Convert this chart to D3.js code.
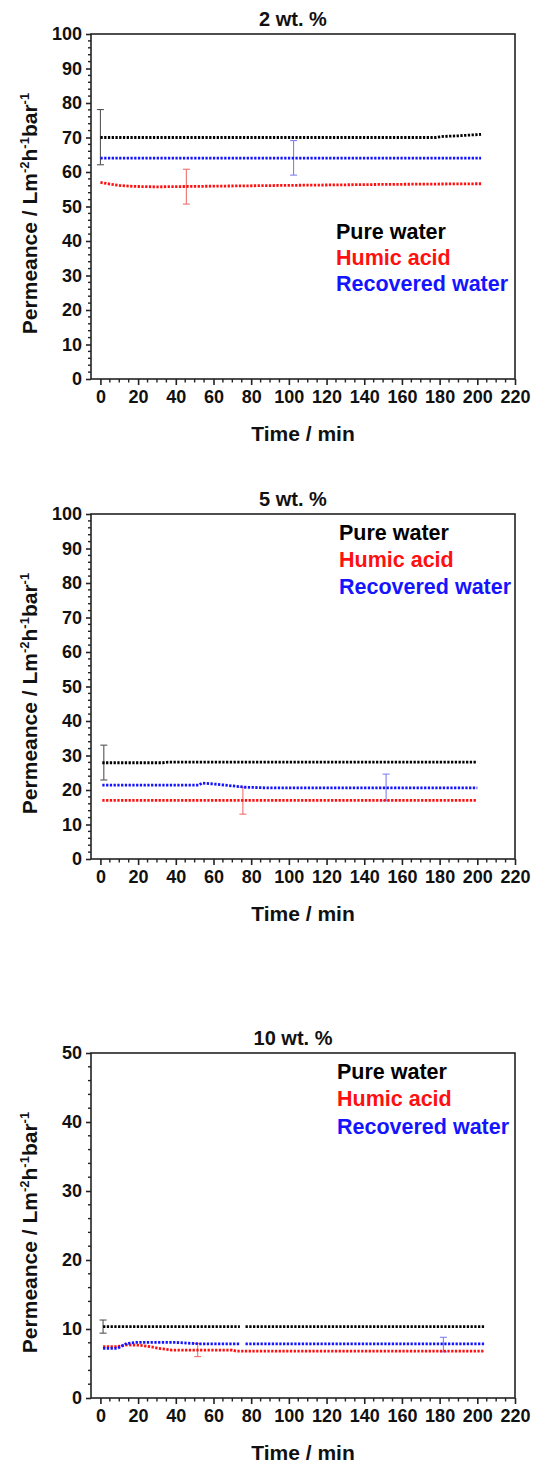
<!doctype html>
<html>
<head>
<meta charset="utf-8">
<script src="https://d3js.org/d3.v7.min.js"></script>
<style>
  body { margin: 0; background: #fff; }
  text { font-family: "Liberation Sans", Arial, sans-serif; font-weight: bold; }
</style>
</head>
<body>
<script type="text/javascript">
var width = 534;
var height = 1464;

// tick labels
var xTicks = [0, 20, 40, 60, 80, 100, 120, 140, 160, 180, 200, 220];
var yTicks100 = [0, 10, 20, 30, 40, 50, 60, 70, 80, 90, 100];
var yTicks50 = [0, 10, 20, 30, 40, 50];
var legendNames = ["Pure water", "Humic acid", "Recovered water"];

// 2 wt. %  : [time, permeance]
var pure2 = [[0, 70.0], [60, 70.0], [120, 70.0], [178, 70.0], [182, 70.3], [190, 70.5], [202, 70.9]];
var humic2 = [[0, 57.0], [5, 56.5], [10, 56.1], [15, 55.9], [20, 55.8], [30, 55.7], [45, 55.8], [95, 56.1], [150, 56.4], [202, 56.6]];
var recovered2 = [[0, 64.0], [100, 64.0], [202, 64.0]];
var err2T = [0, 45.6, 102.5];
var err2Lo = [62.1, 50.7, 59.1];
var err2Hi = [78.1, 60.8, 69.1];

// 5 wt. %
var pure5 = [[1, 27.9], [33, 27.9], [36, 28.1], [120, 28.1], [200, 28.1]];
var humic5 = [[1, 17.0], [100, 17.0], [200, 17.0]];
var recovered5 = [[1, 21.4], [52, 21.4], [54, 22.0], [61, 21.7], [70, 21.2], [77, 20.8], [90, 20.6], [200, 20.6]];
var err5T = [1.8, 75.6, 151.6];
var err5Lo = [22.9, 13.0, 16.9];
var err5Hi = [33.0, 20.8, 24.6];

// 10 wt. %  (NaN = gap in the record)
var pure10 = [[1.4, 10.35], [74, 10.35], [NaN, NaN], [77, 10.35], [204, 10.35]];
var humic10 = [[1.4, 7.45], [9, 7.45], [14, 7.7], [20, 7.65], [25, 7.5], [32, 7.15], [38, 6.95], [70, 6.95], [72, 6.8], [204, 6.8]];
var recovered10 = [[1.4, 7.2], [9, 7.2], [14, 7.9], [19, 8.05], [40, 8.05], [53, 7.85], [74, 7.85], [NaN, NaN], [77, 7.85], [204, 7.85]];
var err10T = [1.4, 51.6, 182];
var err10Lo = [9.4, 6.0, 6.7];
var err10Hi = [11.3, 7.9, 8.8];

var lineColors = ["#000000", "#ff1010", "#1414ff"];
var errColors = ["#555555", "#f07070", "#8080f0"];

var panels = [
  { title: "2 wt. %", top: 34, bottom: 379, yMax: 100, yTicks: yTicks100,
    series: [pure2, humic2, recovered2], errT: err2T, errLo: err2Lo, errHi: err2Hi,
    legendY: [231, 257, 283], legendX: 336 },
  { title: "5 wt. %", top: 514, bottom: 859, yMax: 100, yTicks: yTicks100,
    series: [pure5, humic5, recovered5], errT: err5T, errLo: err5Lo, errHi: err5Hi,
    legendY: [532, 559, 586], legendX: 339 },
  { title: "10 wt. %", top: 1053, bottom: 1398, yMax: 50, yTicks: yTicks50,
    series: [pure10, humic10, recovered10], errT: err10T, errLo: err10Lo, errHi: err10Hi,
    legendY: [1071, 1098, 1126], legendX: 337 }
];

var svg = d3.select("body").append("svg")
    .attr("width", width)
    .attr("height", height);

svg.append("rect").attr("width", width).attr("height", height).attr("fill", "#fff");

var x = d3.scaleLinear().domain([-5, 220]).range([91, 515]);

panels.forEach(function (p) {
  var y = d3.scaleLinear().domain([0, p.yMax]).range([p.bottom, p.top]);
  var g = svg.append("g");

  // frame
  g.append("rect")
      .attr("x", x(-5)).attr("y", p.top)
      .attr("width", x(220) - x(-5)).attr("height", p.bottom - p.top)
      .attr("fill", "none").attr("stroke", "#222").attr("stroke-width", 1.6);

  // x axis
  var xAxis = d3.axisBottom(x).tickValues(xTicks).tickSize(6).tickPadding(5);
  var gx = g.append("g").attr("transform", "translate(0," + p.bottom + ")").call(xAxis);
  gx.select(".domain").remove();
  gx.selectAll("line").attr("stroke", "#222").attr("stroke-width", 1.6);
  gx.selectAll("text").attr("font-size", 18).attr("fill", "#111")
      .attr("font-family", "Liberation Sans, Arial, sans-serif").attr("font-weight", "bold");
  var xMinor = d3.range(5, 220, 5).filter(function (v) { return v % 20 !== 0; });
  g.append("g").selectAll("line").data(xMinor).enter().append("line")
      .attr("x1", function (d) { return x(d); }).attr("x2", function (d) { return x(d); })
      .attr("y1", p.bottom).attr("y2", p.bottom + 3.5)
      .attr("stroke", "#222").attr("stroke-width", 1.4);

  // y axis
  var yAxis = d3.axisLeft(y).tickValues(p.yTicks).tickSize(5).tickPadding(4);
  var gy = g.append("g").attr("transform", "translate(" + x(-5) + ",0)").call(yAxis);
  gy.select(".domain").remove();
  gy.selectAll("line").attr("stroke", "#222").attr("stroke-width", 1.6);
  gy.selectAll("text").attr("font-size", 18).attr("fill", "#111")
      .attr("font-family", "Liberation Sans, Arial, sans-serif").attr("font-weight", "bold");
  var yMinor = d3.range(2, p.yMax, 2).filter(function (v) { return v % 10 !== 0; });
  g.append("g").selectAll("line").data(yMinor).enter().append("line")
      .attr("x1", x(-5)).attr("x2", x(-5) - 3)
      .attr("y1", function (d) { return y(d); }).attr("y2", function (d) { return y(d); })
      .attr("stroke", "#222").attr("stroke-width", 1.4);

  // title
  g.append("text").attr("x", 293).attr("y", p.top - 8)
      .attr("text-anchor", "middle").attr("font-size", 20).attr("fill", "#111")
      .text(p.title);

  // axis titles
  g.append("text").attr("x", 303).attr("y", p.bottom + 62)
      .attr("text-anchor", "middle").attr("font-size", 21).attr("fill", "#111")
      .text("Time / min");

  var yl = g.append("text")
      .attr("transform", "translate(37," + ((p.top + p.bottom) / 2 + 7) + ") rotate(-90)")
      .attr("text-anchor", "middle").attr("font-size", 21).attr("fill", "#111");
  yl.append("tspan").text("Permeance / Lm");
  yl.append("tspan").attr("dy", -8).attr("font-size", 13).text("-2");
  yl.append("tspan").attr("dy", 8).text("h");
  yl.append("tspan").attr("dy", -8).attr("font-size", 13).text("-1");
  yl.append("tspan").attr("dy", 8).text("bar");
  yl.append("tspan").attr("dy", -8).attr("font-size", 13).text("-1");

  // error bars
  var errIdx = [0, 1, 2];
  var eb = g.append("g").selectAll("g").data(errIdx).enter().append("g")
      .attr("stroke", function (i) { return errColors[i]; }).attr("stroke-width", 1.1);
  eb.append("line")
      .attr("x1", function (i) { return x(p.errT[i]); }).attr("x2", function (i) { return x(p.errT[i]); })
      .attr("y1", function (i) { return y(p.errLo[i]); }).attr("y2", function (i) { return y(p.errHi[i]); });
  eb.append("line")
      .attr("x1", function (i) { return x(p.errT[i]) - 3.5; }).attr("x2", function (i) { return x(p.errT[i]) + 3.5; })
      .attr("y1", function (i) { return y(p.errLo[i]); }).attr("y2", function (i) { return y(p.errLo[i]); });
  eb.append("line")
      .attr("x1", function (i) { return x(p.errT[i]) - 3.5; }).attr("x2", function (i) { return x(p.errT[i]) + 3.5; })
      .attr("y1", function (i) { return y(p.errHi[i]); }).attr("y2", function (i) { return y(p.errHi[i]); });

  // series lines drawn with a dense dotted stroke (marker look)
  var line = d3.line()
      .defined(function (d) { return !isNaN(d[0]); })
      .x(function (d) { return x(d[0]); })
      .y(function (d) { return y(d[1]); });

  g.append("g").selectAll("path").data(p.series).enter().append("path")
      .attr("d", line)
      .attr("fill", "none")
      .attr("stroke", function (d, i) { return lineColors[i]; })
      .attr("stroke-width", 2.8)
      .attr("stroke-dasharray", "2.3 1.45");

  // legend
  g.append("g").selectAll("text").data(legendNames).enter().append("text")
      .attr("x", p.legendX)
      .attr("y", function (d, i) { return p.legendY[i] + 7.5; })
      .attr("font-size", 21.5)
      .attr("fill", function (d, i) { return lineColors[i]; })
      .text(function (d) { return d; });
});
</script>
</body>
</html>
